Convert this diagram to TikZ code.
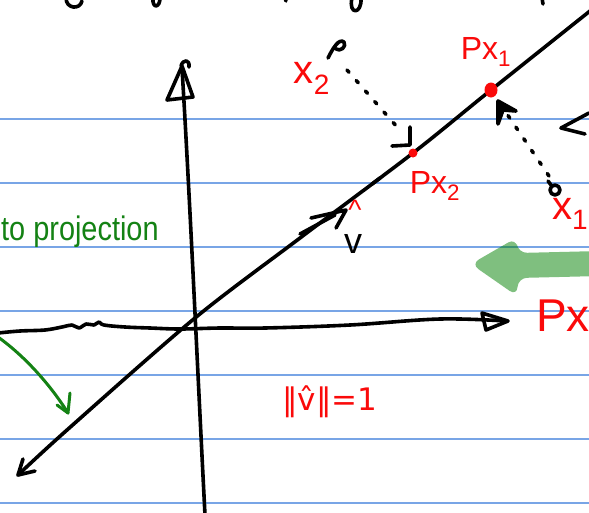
\documentclass[tikz,border=0pt]{standalone}
\usepackage{fontspec}
\setmainfont{Liberation Sans}
\newfontfamily\dejavu{DejaVu Sans}
\usetikzlibrary{arrows.meta}
\definecolor{rulecol}{RGB}{120,165,230}
\definecolor{penred}{RGB}{250,10,10}
\definecolor{pengreen}{RGB}{20,130,20}
\definecolor{hilite}{RGB}{0,128,0}
\begin{document}
\begin{tikzpicture}[x=1pt,y=-1pt,
  ruled/.style={draw=rulecol,line width=1.3pt},
  ink/.style={draw=black,line width=3.6pt,line cap=round,line join=round},
  dotink/.style={ink,dash pattern=on 3pt off 11pt},
  redlab/.style={text=penred,inner sep=0pt},
  greenink/.style={draw=pengreen,line width=3pt,line cap=round,line join=round},
  reddot/.style={fill=penred,draw=none}]
\useasboundingbox (0,0) rectangle (589,512);
\clip (0,0) rectangle (589,512);
% ruled paper
\foreach \y in {119,183,247,311,375,439,503} \draw[ruled] (0,\y) -- (589,\y);
% top fragments of handwriting
\draw[ink] (66,-2) .. controls (66,9) and (80,10) .. (82,1);
\draw[ink] (153,-2) .. controls (152,9) and (160,8) .. (160,-2);
\draw[ink] (285,-2) -- (286,1);
\draw[ink] (352,-2) .. controls (348,15) and (362,15) .. (361,-2);
\draw[ink] (542,-2) -- (543,4);
% named points
\coordinate (vbot) at (205,515);
\coordinate (vtop) at (182,68);
\coordinate (hleft) at (-2,333);
\coordinate (htip) at (506,321);
\coordinate (dlo) at (18,475);
\coordinate (dhi) at (600,3);
\coordinate (vhat) at (346,210);
\coordinate (px1) at (491,90);
\coordinate (px2) at (413,153);
\coordinate (x1) at (555,190);
\coordinate (x2) at (338,47);
% vertical axis
\draw[ink] (vbot) .. controls (198,380) and (190,200) .. (vtop);
\draw[ink] (167,100) -- (182,66) -- (193,97) -- cycle;
\draw[ink] (181,66) .. controls (183,59) and (190,59) .. (189,67);
% horizontal axis (wavy)
\draw[ink] plot[smooth,tension=0.6] coordinates {(hleft) (20,331) (45,330) (62,327) (72,325) (79,328) (86,324) (94,325) (99,322) (104,325) (125,327) (150,328) (180,329) (220,328) (265,328) (350,325) (440,319) (htip)};
\draw[ink] (482,313) -- (508,321) -- (486,330) -- cycle;
% diagonal line (span of v-hat)
\draw[ink] plot[smooth,tension=0.5] coordinates {(dlo) (67,430) (195,318) (300,238) (px2) (px1) (dhi)};
\draw[ink] (23,459) -- (dlo) -- (35,471);
% v-hat vector marks
\draw[ink] (300,234) -- (335,215);
\draw[ink] (311,218) -- (vhat) -- (336,228);
\draw[ink] (372,184) -- (380,178);
\node[inner sep=0pt,font=\fontsize{36}{36}\selectfont] (vlab) at (353,244) {v};
\node[redlab,font=\fontsize{28}{28}\selectfont] (vhatmark) at (355,210) {\textasciicircum};
% projected points
\fill[reddot] (px1) ellipse (6.5pt and 7.5pt);
\fill[reddot] (px2) circle (4.5pt);
\node[redlab,font=\fontsize{32}{32}\selectfont] (px1lab) at (486,52) {Px\textsubscript{1}};
\node[redlab,font=\fontsize{32}{32}\selectfont] (px2lab) at (435,186) {Px\textsubscript{2}};
% data point x2
\draw[ink] (328,58) .. controls (333,48) and (339,38) .. (344,42) .. controls (347,47) and (340,52) .. (336,49);
\node[redlab,font=\fontsize{40}{40}\selectfont] (x2lab) at (312,78) {x\textsubscript{2}};
\draw[dotink] (347,70) -- (398,128);
\draw[ink] (410,127) -- (410,145) -- (392,146);
% data point x1
\draw[ink] (x1) circle (5pt);
\draw[ink] (551,185) -- (548,181);
\node[redlab,font=\fontsize{40}{40}\selectfont,anchor=west] (x1lab) at (552,214) {x\textsubscript{1}};
\draw[dotink] (549,176) -- (507,114);
\draw[ink,fill=black] (498,124) -- (498,101) -- (516,111) -- (503,110) -- cycle;
% arrowhead at right edge
\draw[ink] (589,113) -- (561,128) -- (585,134);
% big translucent green arrow
\fill[hilite,fill opacity=0.5,rounded corners=9pt] (600,251) -- (518,253) -- (516,238) -- (471,264) -- (517,296) -- (518,278) -- (600,276) -- cycle;
\node[redlab,font=\fontsize{46}{46}\selectfont,anchor=west] (pxlab) at (536,316) {Px};
% green annotation
\node[inner sep=0pt,anchor=base west,text=pengreen,font=\fontsize{34}{34}\selectfont] (projtext) at (1,240) {\scalebox{0.85}[1]{to projection}};
\coordinate (gstart) at (-2,337);
\coordinate (gend) at (68,413);
\draw[greenink] (gstart) .. controls (30,360) and (55,392) .. (gend);
\draw[greenink] (70,393) -- (gend) -- (57,405);
% norm label
\node[redlab,font=\dejavu\fontsize{31}{31}\selectfont] (normlab) at (330,402) {‖v̂‖=1};
\end{tikzpicture}
\end{document}
